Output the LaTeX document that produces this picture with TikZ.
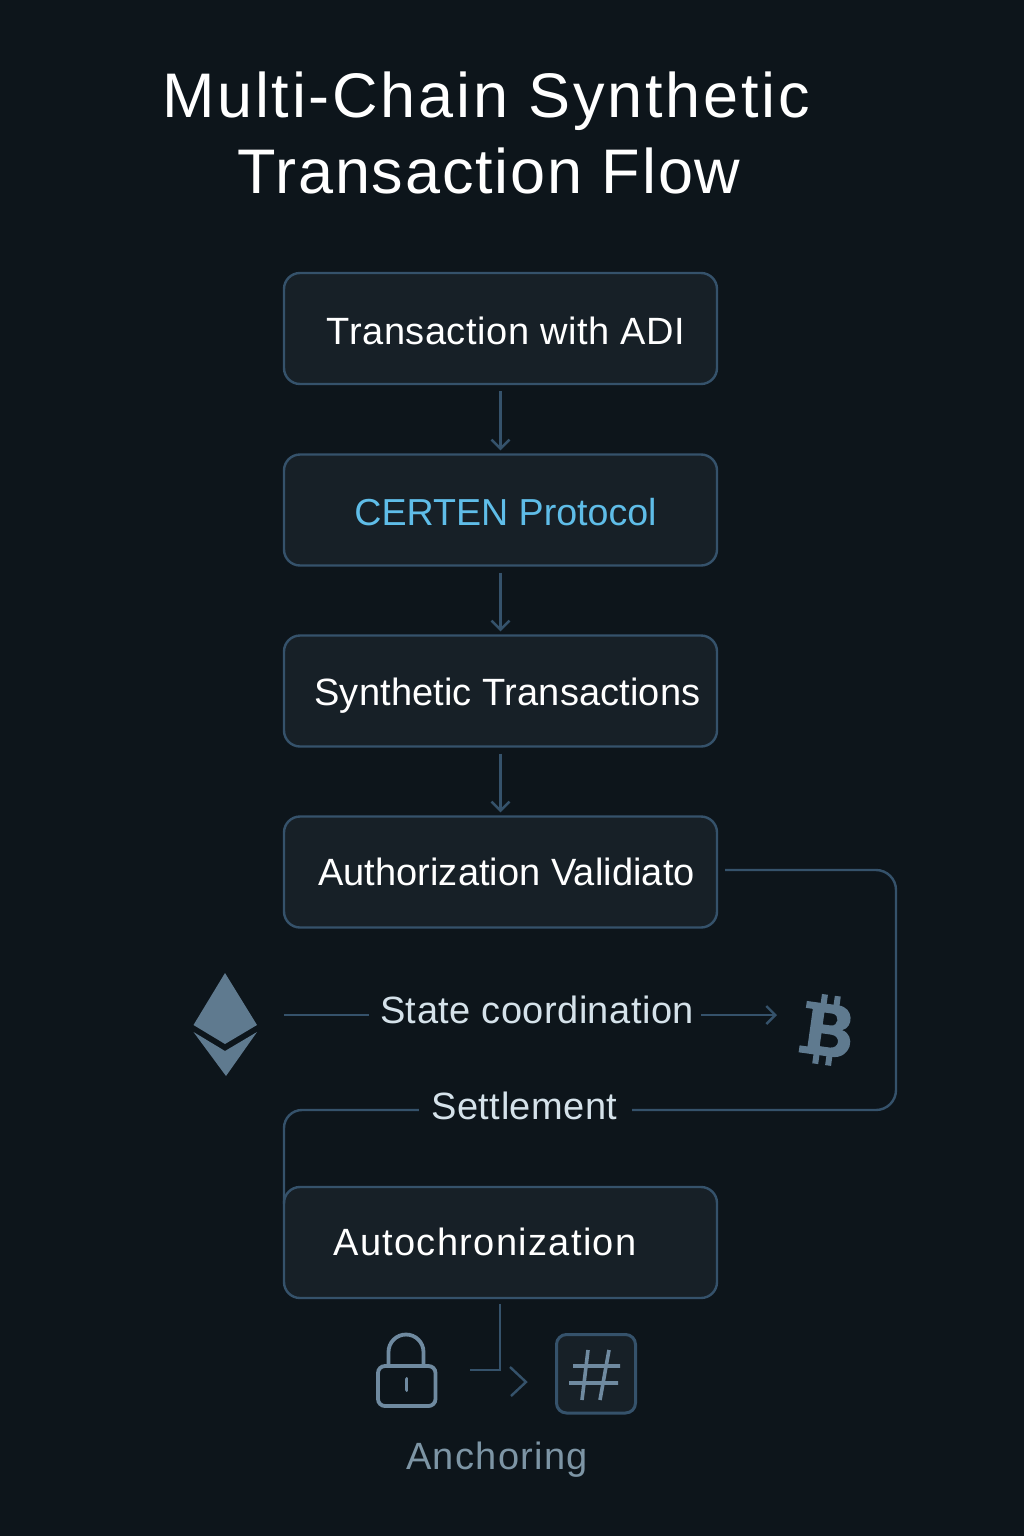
\documentclass[tikz,border=0pt]{standalone}
\usepackage{fontspec}
\setmainfont{Liberation Sans}
\usetikzlibrary{arrows.meta}
\definecolor{bgc}{HTML}{0D151B}
\definecolor{boxc}{HTML}{172027}
\definecolor{linec}{HTML}{35526B}
\definecolor{iconc}{HTML}{5F7A8F}
\definecolor{hashc}{HTML}{6F8AA0}
\definecolor{softc}{HTML}{D5E2EA}
\definecolor{dimc}{HTML}{7D95A5}
\definecolor{certc}{HTML}{5FBDE8}
\newcommand{\spaced}[1]{\addfontfeature{LetterSpace=#1}}
\tikzset{
  flowbox/.style={draw=linec,fill=boxc,line width=2.4pt,rounded corners=16pt,minimum width=433pt,minimum height=111pt,inner sep=0pt},
  boxlabel/.style={anchor=base,inner sep=0pt,text=white,font=\fontsize{38}{38}\selectfont},
  titletext/.style={anchor=base,inner sep=0pt,text=white,font=\fontsize{63}{63}\selectfont},
  midlabel/.style={anchor=base,inner sep=0pt,text=softc,font=\fontsize{38}{38}\selectfont},
  conn/.style={draw=linec,line width=2.4pt},
  arrowconn/.style={conn,-{Straight Barb[length=9pt,width=18pt,line width=2.4pt]}},
}
\begin{document}
\begin{tikzpicture}[x=1pt,y=-1pt]
\useasboundingbox (0,0) rectangle (1024,1536);
\fill[bgc] (0,0) rectangle (1024,1536);
% title
\node[titletext] (t1) at (486,118) {\spaced{4.4}Multi-Chain Synthetic};
\node[titletext] (t2) at (489,193) {\spaced{2.9}Transaction Flow};
% boxes
\node[flowbox] (b1) at (500.5,328.5) {};
\node[flowbox] (b2) at (500.5,510) {};
\node[flowbox] (b3) at (500.5,691) {};
\node[flowbox] (b4) at (500.5,872) {};
\node[flowbox] (b5) at (500.5,1242.5) {};
\node[boxlabel] (l1) at (506,344) {\spaced{1.4}Transaction with ADI};
\node[boxlabel,text=certc,font=\fontsize{37.6}{38}\selectfont] (l2) at (505.5,525) {CERTEN Protocol};
\node[boxlabel] (l3) at (507.5,705) {\spaced{0.4}Synthetic Transactions};
\node[boxlabel] (l4) at (506.5,885) {\spaced{0.2}Authorization Validiato};
\node[boxlabel] (l5) at (485,1255) {\spaced{3.5}Autochronization};
% flow arrows
\draw[arrowconn,shorten <=6pt,shorten >=3pt] (b1.south) -- (b2.north);
\draw[arrowconn,shorten <=6pt,shorten >=3pt] (b2.south) -- (b3.north);
\draw[arrowconn,shorten <=6pt,shorten >=3pt] (b3.south) -- (b4.north);
% state coordination
\node[midlabel,minimum width=332pt] (state) at (535,1023) {\hspace*{4pt}\spaced{1.2}State coordination};
\coordinate (stateline) at (0,1015);
\coordinate (stateL) at (284,1015);
\coordinate (stateR) at (777,1015);
\draw[conn] (stateL) -- (state.west |- stateline);
\draw[arrowconn] (state.east |- stateline) -- (stateR);
% settlement
\node[midlabel,minimum width=213pt] (settle) at (525.5,1119) {\spaced{1.2}Settlement\hspace*{2pt}};
\coordinate (setline) at (0,1110);
\coordinate (r0) at (725,870);
\coordinate (r1) at (896,870);
\coordinate (r2) at (896,1110);
\coordinate (l0) at (284,1110);
\draw[conn,rounded corners=20pt] (r0) -- (r1) -- (r2) -- (settle.east |- setline);
\draw[conn,rounded corners=18pt] (settle.west |- setline) -- (l0) -- (l0 |- b5.north) -- ++(0,12);
% bottom connector
\coordinate (elbow) at (500,1370);
\coordinate (elbowend) at (470,1370);
\draw[conn,shorten <=5pt] (b5.south -| elbow) -- (elbow) -- (elbowend);
\coordinate (chevA) at (510,1367);
\coordinate (chevB) at (526,1382);
\coordinate (chevC) at (511,1396);
\draw[conn] (chevA) -- (chevB) -- (chevC);
% ethereum
\fill[iconc] (225,973) -- (257,1025) -- (225,1044) -- (193.5,1025) -- cycle;
\fill[iconc] (193.5,1032) -- (225,1051) -- (257,1032) -- (226,1076) -- cycle;
% bitcoin
\begin{scope}[shift={(827,1030)},rotate=-8]
\fill[iconc,even odd rule]
 (-24,-26) -- (8,-26) .. controls (24,-26) and (26,-6) .. (15,-2)
 .. controls (30,1) and (28,26) .. (8,26) -- (-25,26) -- (-25,19) -- (-17,19) -- (-17,-19) -- (-24,-19) -- cycle
 (-5,-17) -- (-5,-5) -- (3,-5) .. controls (11,-5) and (11,-17) .. (3,-17) -- cycle
 (-5,4) -- (-5,17) -- (5,17) .. controls (15,17) and (15,4) .. (5,4) -- cycle;
\fill[iconc] (-10,-35) rectangle (-4,-25) (3,-35) rectangle (9,-25) (-10,25) rectangle (-4,35) (3,25) rectangle (9,35);
\end{scope}
% lock
\draw[hashc,line width=3.8pt,rounded corners=7pt] (378,1366) rectangle (435.5,1406);
\draw[hashc,line width=3.8pt] (388.5,1365) -- (388.5,1352) arc[start angle=180,end angle=0,x radius=17.5,y radius=-17.5] -- (423.5,1365);
\draw[hashc,line width=3.8pt,line cap=round] (406.5,1379) -- (406.5,1390);
% hash
\draw[linec,fill=boxc,line width=3pt,rounded corners=10pt] (556.5,1334.5) rectangle (635.5,1413);
\draw[hashc,line width=3.6pt] (588,1350) -- (582,1400) (609,1350) -- (600,1400) (573,1366) -- (620,1366) (569,1383) -- (618,1383);
\node[midlabel,text=dimc] (anch) at (497,1469) {\spaced{3.3}Anchoring};
\end{tikzpicture}
\end{document}
